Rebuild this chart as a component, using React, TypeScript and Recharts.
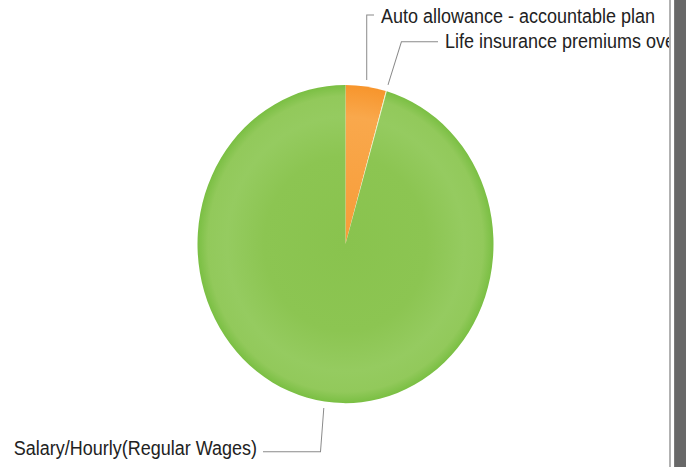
import { PieChart, Pie, Cell } from "recharts";

// slices, clockwise from 12 o'clock
const NAMES = [
  "Auto allowance - accountable plan",
  "Life insurance premiums over $50,000",
  "Salary/Hourly(Regular Wages)",
];
const VALUES = [4.4, 0.1, 95.5];
const FILLS = ["url(#gOrange)", "#eef3c8", "url(#gGreen)"];

// leader-line layout for each label (unscaled chart coords)
const LABEL_ROW_Y = [14, 38.8, 420.2];
const LABEL_BEND_DX = [0, 13.4, -3.3];
const LABEL_TEXT_X = [381, 445, 257];
const LABEL_BASELINE = [21.4, 44.9, 423.3];

const CX = 345.5;
const CY = 227;
const R = 148;
const STRETCH = 1.075; // source image is stretched vertically

const data = NAMES.map((name, i) => ({ name, value: VALUES[i] }));

const RAD = Math.PI / 180;

function renderLabel(props: any) {
  const { cx, cy, midAngle, outerRadius, index } = props;
  const r = outerRadius + 6;
  const sx = cx + r * Math.cos(-midAngle * RAD);
  const sy = cy + r * Math.sin(-midAngle * RAD);
  const bx = sx + LABEL_BEND_DX[index];
  const by = LABEL_ROW_Y[index];
  const tx = LABEL_TEXT_X[index];
  const right = tx > bx;
  const ex = right ? tx - 7 : tx + 6;
  return (
    <g key={`lbl-${index}`}>
      <polyline
        points={`${sx},${sy} ${bx},${by} ${ex},${by}`}
        fill="none"
        stroke="#8a8a8a"
        strokeWidth={1}
      />
      <text
        x={tx}
        y={LABEL_BASELINE[index]}
        textAnchor={right ? "start" : "end"}
        fontFamily="'Liberation Sans', Arial, sans-serif"
        fontSize={18}
        fill="#222"
      >
        {NAMES[index]}
      </text>
    </g>
  );
}

export default function App() {
  return (
    <div
      style={{
        position: "fixed",
        left: 0,
        top: 0,
        width: 686,
        height: 467,
        background: "#fff",
        overflow: "hidden",
      }}
    >
      <svg width={0} height={0} style={{ position: "absolute" }}>
        <defs>
          <radialGradient id="gGreen" gradientUnits="userSpaceOnUse" cx={CX} cy={CY} r={R}>
            <stop offset="0" stopColor="#89c34e" />
            <stop offset="0.55" stopColor="#8cc552" />
            <stop offset="0.8" stopColor="#95cb60" />
            <stop offset="0.93" stopColor="#92c95b" />
            <stop offset="1" stopColor="#7abf43" />
          </radialGradient>
          <radialGradient id="gOrange" gradientUnits="userSpaceOnUse" cx={CX} cy={CY} r={R}>
            <stop offset="0" stopColor="#f79c38" />
            <stop offset="0.8" stopColor="#f9a84c" />
            <stop offset="1" stopColor="#f7952c" />
          </radialGradient>
        </defs>
      </svg>

      {/* chart panel */}
      <div
        style={{
          position: "absolute",
          left: 0,
          top: 0,
          width: 671,
          height: 467,
          boxSizing: "border-box",
          borderRight: "2px solid #b2b2b2",
          overflow: "hidden",
        }}
      >
        <div style={{ transform: `scaleY(${STRETCH})`, transformOrigin: "0 0" }}>
          <PieChart
            width={669}
            height={434}
            margin={{ top: 0, right: 0, bottom: 0, left: 0 }}
          >
            <Pie
              data={data}
              dataKey="value"
              nameKey="name"
              cx={CX}
              cy={CY}
              outerRadius={R}
              startAngle={90}
              endAngle={-270}
              stroke="none"
              label={renderLabel}
              labelLine={false}
              isAnimationActive={false}
            >
              {data.map((d, i) => (
                <Cell key={d.name} fill={FILLS[i]} />
              ))}
            </Pie>
          </PieChart>
        </div>
      </div>

      {/* dark window frame on the right */}
      <div
        style={{
          position: "absolute",
          left: 674,
          top: 0,
          width: 12,
          height: 467,
          background: "#686868",
          borderLeft: "1px solid #7a7a7a",
          boxSizing: "border-box",
        }}
      />
    </div>
  );
}
